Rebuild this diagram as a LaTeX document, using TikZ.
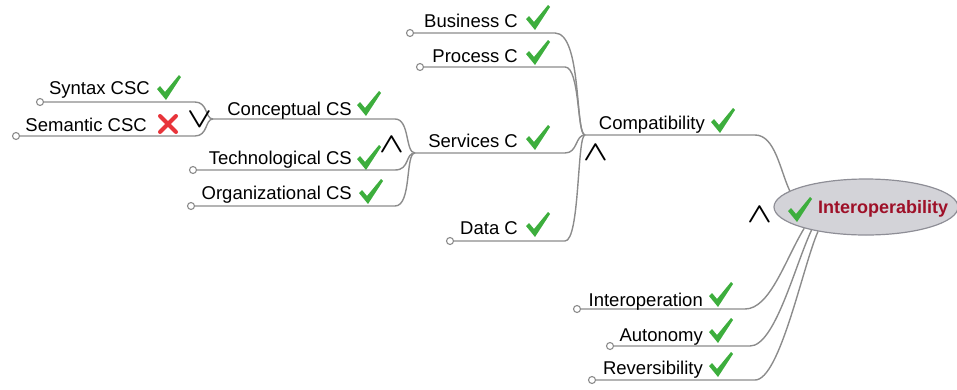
\documentclass[tikz,border=0pt]{standalone}
\usepackage{fontspec}
\setmainfont{Liberation Sans}
\usetikzlibrary{shapes.geometric}
\definecolor{ln}{HTML}{8C8C8C}
\definecolor{ck}{HTML}{3DAE3D}
\definecolor{xr}{HTML}{E8343A}
\definecolor{elf}{HTML}{D3D3D8}
\definecolor{eld}{HTML}{8E8E96}
\definecolor{ired}{HTML}{9E1028}
\newcommand{\opsym}[1]{\scalebox{1.3}[1.12]{$#1$}}
\begin{document}
\begin{tikzpicture}[x=1pt,y=-1pt,
  br/.style={draw=ln,line width=1.4pt},
  endc/.style={circle,draw=ln,fill=white,line width=1.1pt,inner sep=0pt,minimum size=7pt},
  lab/.style={anchor=base east,inner sep=0pt,font=\fontsize{18.5}{22}\selectfont},
  op/.style={inner sep=0pt,font=\fontsize{24.88}{30}\selectfont\boldmath},
  chk/.pic={\fill[ck] (-9,-10) -- (-6,-13) -- (-1,-7) -- (13,-24) -- (15,-22) -- (0,1) -- cycle;},
  crs/.pic={\draw[xr,line width=4pt,line cap=round] (-8,-8) -- (8,8) (8,-8) -- (-8,8);}
]
\useasboundingbox (0,0) rectangle (957,389);

% junctions
\coordinate (J1) at (213,119);
\coordinate (J2) at (415,153);
\coordinate (J3) at (585,135);

% ellipse
\node[ellipse,draw=eld,fill=elf,line width=1.2pt,minimum width=184pt,minimum height=56pt,inner sep=0pt] (E) at (866,207) {};

% end circles
\node[endc] (c-syn) at (40,102) {};
\node[endc] (c-sem) at (16,136) {};
\node[endc] (c-tec) at (193,170) {};
\node[endc] (c-org) at (191,206) {};
\node[endc] (c-bus) at (410,33) {};
\node[endc] (c-pro) at (420,67) {};
\node[endc] (c-dat) at (450,241) {};
\node[endc] (c-iop) at (577,309) {};
\node[endc] (c-aut) at (610,346) {};
\node[endc] (c-rev) at (592,380) {};

% connectors
\draw[br] (c-syn.east) -- (195,102) .. controls (208,102) and (205,119) .. (J1);
\draw[br] (c-sem.east) -- (195,136) .. controls (208,136) and (205,119) .. (J1);
\draw[br] (J1) -- (395,119) .. controls (410,119) and (405,153) .. (J2);
\draw[br] (c-tec.east) -- (395,170) .. controls (410,170) and (405,153) .. (J2);
\draw[br] (c-org.east) -- (395,206) .. controls (412,206) and (405,153) .. (J2);
\draw[br] (J2) -- (565,153) .. controls (578,153) and (575,135) .. (J3);
\draw[br] (c-bus.east) -- (555,33) .. controls (582,33) and (575,135) .. (J3);
\draw[br] (c-pro.east) -- (565,67) .. controls (580,67) and (577,135) .. (J3);
\draw[br] (c-dat.east) -- (565,241) .. controls (580,241) and (577,135) .. (J3);
\draw[br] (J3) -- (755,135) .. controls (775,135) and (780,170) .. (E.168);
\draw[br] (c-iop.east) -- (745,309) .. controls (770,309) and (785,260) .. (E.199);
\draw[br] (c-aut.east) -- (750,346) .. controls (775,346) and (795,265) .. (E.203);
\draw[br] (c-rev.east) -- (755,380) .. controls (780,380) and (803,265) .. (E.207);

% labels
\node[lab] (t-syn) at (150,94) {Syntax CSC};
\node[lab] (t-sem) at (147,131) {Semantic CSC};
\node[lab] (t-con) at (352,115) {Conceptual CS};
\node[lab] (t-tec) at (352,164) {Technological CS};
\node[lab] (t-org) at (352,199) {Organizational CS};
\node[lab] (t-bus) at (518,27) {Business C};
\node[lab] (t-pro) at (518,62) {Process C};
\node[lab] (t-ser) at (518,147) {Services C};
\node[lab] (t-dat) at (518,234) {Data C};
\node[lab] (t-cmp) at (705,129) {Compatibility};
\node[lab] (t-iop) at (703,306) {Interoperation};
\node[lab] (t-aut) at (703,341) {Autonomy};
\node[lab] (t-rev) at (703,374) {Reversibility};
\node[anchor=base west,inner sep=0pt,font=\bfseries\fontsize{18}{22}\selectfont,text=ired] (t-main) at (818,213) {Interoperability};

% checks and cross
\pic at (166,99) {chk};
\pic at (168,124) {crs};
\pic at (366,115) {chk};
\pic at (366,169) {chk};
\pic at (368,203) {chk};
\pic at (535,29) {chk};
\pic at (535,64) {chk};
\pic at (535,149) {chk};
\pic at (535,236) {chk};
\pic at (720,132) {chk};
\pic at (718,306) {chk};
\pic at (718,342) {chk};
\pic at (718,376) {chk};
\pic at (797,221) {chk};

% operators
\node[op] (o1) at (200,120) {\opsym{\vee}};
\node[op] (o2) at (392,145) {\opsym{\wedge}};
\node[op] (o3) at (596,153) {\opsym{\wedge}};
\node[op] (o4) at (760,215) {\opsym{\wedge}};
\end{tikzpicture}
\end{document}
